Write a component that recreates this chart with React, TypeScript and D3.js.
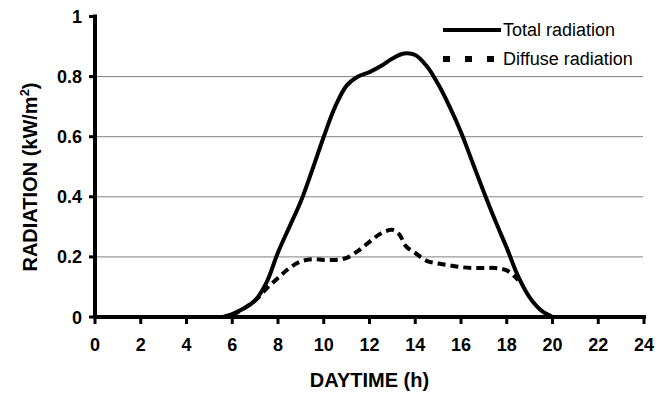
import React from 'react';
import * as d3 from 'd3';

// hours of day and radiation readings (kW/m2)
const totalHours = [5.6, 6, 6.5, 7, 7.5, 8, 8.5, 9, 9.5, 10, 10.5, 11, 11.5, 12, 12.5, 13, 13.5, 14, 14.5, 15, 15.5, 16, 16.5, 17, 17.5, 18, 18.5, 19, 19.5, 20];
const totalValues = [0, 0.01, 0.028, 0.055, 0.115, 0.215, 0.3, 0.385, 0.49, 0.6, 0.7, 0.77, 0.8, 0.815, 0.835, 0.86, 0.877, 0.872, 0.835, 0.775, 0.7, 0.615, 0.515, 0.415, 0.32, 0.23, 0.135, 0.065, 0.022, 0];

const diffuseHours = [6, 6.5, 7, 7.5, 8, 8.5, 9, 9.5, 10, 10.5, 11, 11.5, 12, 12.5, 13, 13.3, 13.6, 14, 14.5, 15, 15.5, 16, 16.5, 17, 17.5, 18, 18.5];
const diffuseValues = [0.005, 0.028, 0.055, 0.095, 0.13, 0.163, 0.185, 0.192, 0.19, 0.19, 0.197, 0.22, 0.25, 0.278, 0.29, 0.275, 0.235, 0.213, 0.187, 0.178, 0.172, 0.166, 0.163, 0.163, 0.163, 0.155, 0.123];

const xTicks = [0, 2, 4, 6, 8, 10, 12, 14, 16, 18, 20, 22, 24];
const yTicks = [0, 0.2, 0.4, 0.6, 0.8, 1];
const seriesNames = ['Total radiation', 'Diffuse radiation'];

const font = '"Liberation Sans", Arial, sans-serif';

export default function App() {
  const x = d3.scaleLinear().domain([0, 24]).range([95, 644]);
  const y = d3.scaleLinear().domain([0, 1]).range([317, 16.5]);

  const line = d3
    .line<[number, number]>()
    .x((d) => x(d[0]))
    .y((d) => y(d[1]))
    .curve(d3.curveCatmullRom.alpha(0.5));

  const totalPath = line(totalHours.map((h, i) => [h, totalValues[i]]));
  const diffusePath = line(diffuseHours.map((h, i) => [h, diffuseValues[i]]));

  return (
    <svg width={666} height={394} style={{ position: 'absolute', left: 0, top: 0, background: '#fff' }}>
      {/* grid */}
      {yTicks.filter((t) => t > 0 && t < 1).map((t) => (
        <line key={t} x1={x(0)} x2={x(24) - 1} y1={y(t)} y2={y(t)} stroke="#808080" strokeWidth={1} />
      ))}

      {/* series */}
      <path d={diffusePath || ''} fill="none" stroke="#000" strokeWidth={4} strokeDasharray="8,5" />
      <path d={totalPath || ''} fill="none" stroke="#000" strokeWidth={4} strokeLinejoin="round" />

      {/* y axis */}
      <line x1={x(0)} x2={x(0)} y1={y(1) - 2} y2={y(0) + 2} stroke="#000" strokeWidth={4} />
      {yTicks.map((t) => (
        <g key={t}>
          <line x1={x(0) - 6} x2={x(0)} y1={y(t)} y2={y(t)} stroke="#000" strokeWidth={3} />
          <text x={82} y={y(t) + 6.5} textAnchor="end" fontFamily={font} fontWeight="bold" fontSize={18}>
            {d3.format('~g')(t)}
          </text>
        </g>
      ))}

      {/* x axis */}
      <line x1={x(0) - 2} x2={x(24) + 2} y1={y(0)} y2={y(0)} stroke="#000" strokeWidth={4} />
      {xTicks.map((t) => (
        <g key={t}>
          <line x1={x(t)} x2={x(t)} y1={y(0)} y2={y(0) + 7} stroke="#000" strokeWidth={3} />
          <text x={x(t)} y={351} textAnchor="middle" fontFamily={font} fontWeight="bold" fontSize={18}>
            {t}
          </text>
        </g>
      ))}

      {/* axis titles */}
      <text x={369.5} y={387} textAnchor="middle" fontFamily={font} fontWeight="bold" fontSize={20}>
        DAYTIME (h)
      </text>
      <text transform="translate(37,177) rotate(-90)" textAnchor="middle" fontFamily={font} fontWeight="bold" fontSize={20}>
        RADIATION (kW/m<tspan dy={-8} fontSize={13}>2</tspan><tspan dy={8}>)</tspan>
      </text>

      {/* legend */}
      <line x1={443} x2={501} y1={30} y2={30} stroke="#000" strokeWidth={4} />
      <text x={503} y={36} fontFamily={font} fontSize={18}>{seriesNames[0]}</text>
      <line x1={443} x2={501} y1={59} y2={59} stroke="#000" strokeWidth={6} strokeDasharray="7,15" />
      <text x={503} y={65} fontFamily={font} fontSize={18}>{seriesNames[1]}</text>
    </svg>
  );
}
